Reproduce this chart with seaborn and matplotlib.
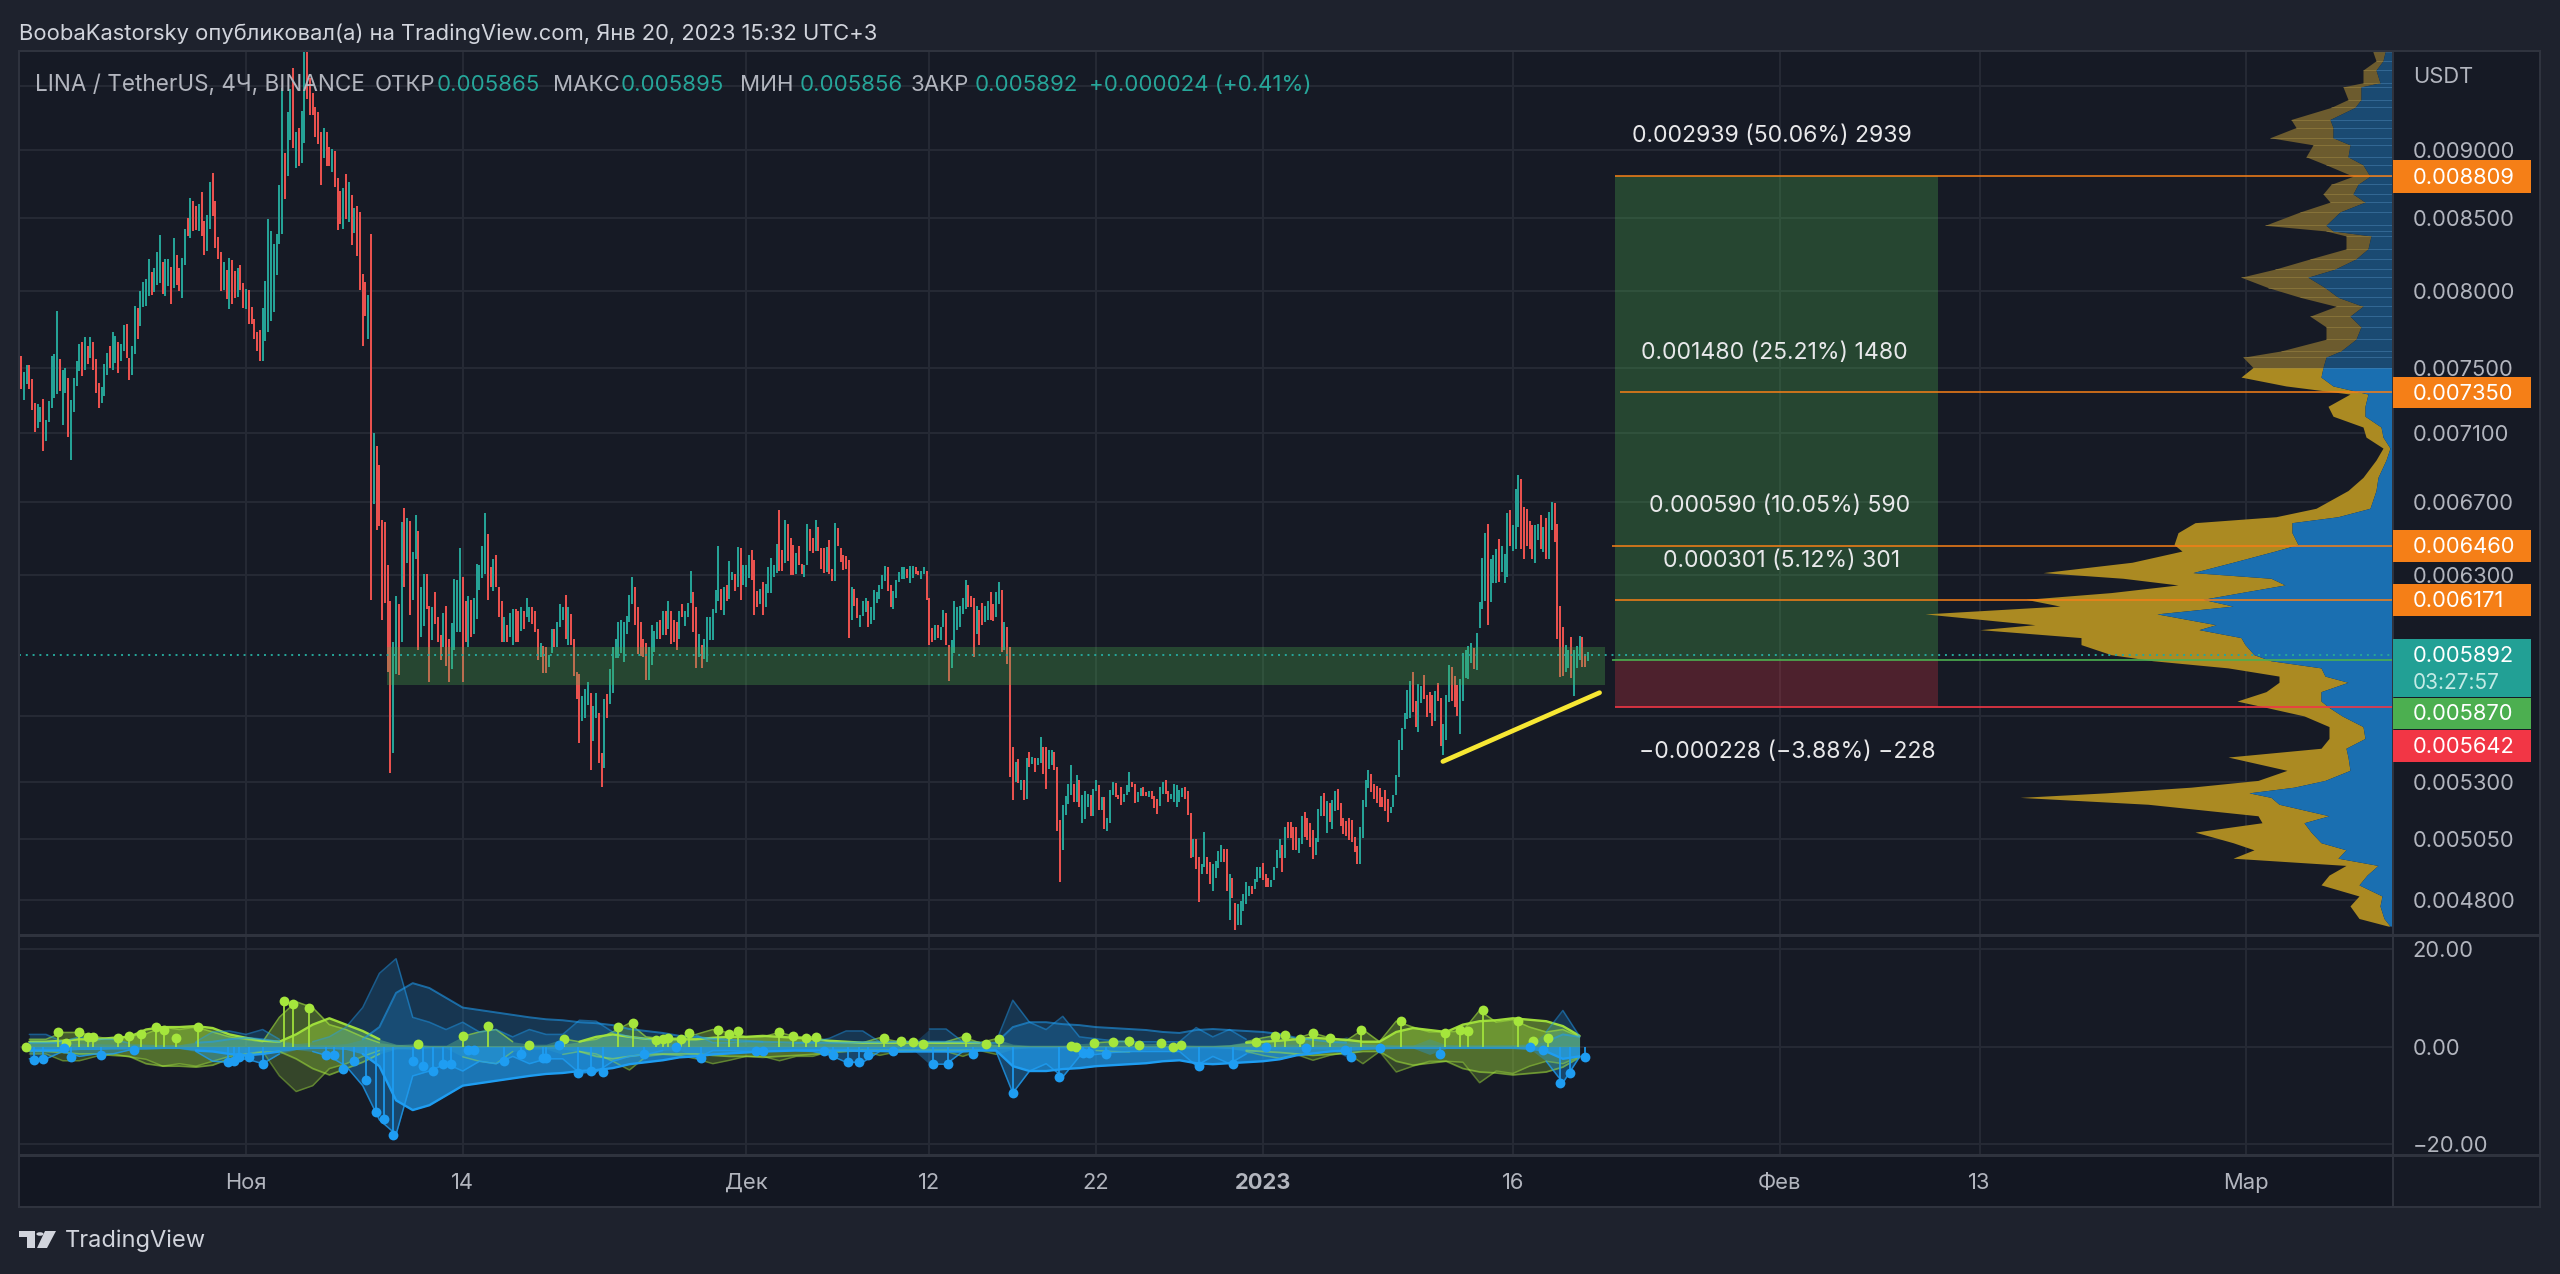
import matplotlib
matplotlib.use('Agg')
import matplotlib.pyplot as plt
from matplotlib.patches import Rectangle, Polygon, Circle
from matplotlib.ticker import NullLocator
import numpy as np
import pandas as pd
import seaborn as sns

# 4h candles, prices in millionths of USDT
candle_high = [
    7573, 7470, 7513, 7513, 7430, 7281, 7271, 7257, 7306, 7178,
    7292, 7573, 7584, 7865, 7556, 7483, 7498, 7433, 7298, 7433,
    7541, 7650, 7664, 7692, 7638, 7692, 7660, 7552, 7405, 7380,
    7520, 7590, 7638, 7725, 7700, 7660, 7650, 7772, 7778, 7563,
    7638, 7900, 7887, 7995, 8060, 8080, 8215, 8127, 8150, 8260,
    8381, 8192, 8215, 8215, 8157, 8358, 8242, 8150, 8220, 8427,
    8505, 8644, 8627, 8590, 8602, 8688, 8482, 8522, 8766, 8830,
    8627, 8370, 8260, 8192, 8140, 8220, 8210, 8134, 8150, 8173,
    8048, 8012, 8002, 7893, 7811, 7729, 7742, 7887, 8065, 8497,
    8410, 8320, 8388, 8742, 9480, 8975, 9294, 9470, 9640, 9134,
    9165, 9302, 9780, 9780, 9560, 9444, 9335, 9289, 9134, 9165,
    9134, 9026, 9005, 8993, 8790, 8700, 8717, 8822, 8766, 8664,
    8570, 8588, 8545, 8110, 8058, 7972, 8388, 7100, 7025, 6910,
    6600, 6586, 6355, 6167, 5960, 6190, 6150, 6590, 6665, 6610,
    6592, 6425, 6630, 6537, 6240, 6308, 6308, 6143, 6135, 6215,
    6085, 5995, 6105, 6143, 5975, 6053, 6280, 6275, 6445, 6290,
    6165, 6190, 6170, 6180, 6363, 6355, 6458, 6640, 6525, 6345,
    6385, 6410, 6240, 6165, 6085, 6045, 6105, 6125, 6125, 6115,
    6135, 6115, 6180, 6135, 6135, 6115, 6025, 5955, 5940, 5935,
    5895, 6025, 6025, 6060, 6150, 6135, 6195, 6135, 6098, 5975,
    5810, 5800, 5695, 5730, 5760, 5710, 5645, 5710, 5615, 5430,
    5680, 5705, 5825, 5935, 5975, 6060, 6068, 6060, 6090, 6195,
    6290, 6240, 6135, 6060, 5975, 5955, 5935, 6045, 6015, 6060,
    6070, 6115, 6115, 6165, 6115, 6070, 6060, 6115, 6150, 6115,
    6155, 6325, 6215, 6135, 6000, 5945, 5975, 6085, 6085, 6125,
    6225, 6458, 6230, 6240, 6250, 6375, 6320, 6310, 6450, 6445,
    6355, 6355, 6410, 6435, 6380, 6220, 6230, 6265, 6255, 6345,
    6395, 6355, 6470, 6655, 6435, 6600, 6577, 6500, 6465, 6420,
    6460, 6363, 6355, 6577, 6550, 6500, 6600, 6563, 6446, 6446,
    6450, 6490, 6335, 6584, 6553, 6446, 6410, 6403, 6380, 6240,
    6230, 6180, 6093, 6168, 6180, 6168, 6135, 6222, 6212, 6250,
    6300, 6352, 6346, 6250, 6217, 6278, 6317, 6346, 6346, 6334,
    6352, 6352, 6346, 6326, 6326, 6346, 6326, 6180, 6030, 6043,
    6046, 6033, 6122, 6105, 5945, 5970, 6168, 6135, 6140, 6180,
    6278, 6250, 6192, 6180, 6138, 6122, 6155, 6143, 6165, 6212,
    6150, 6212, 6263, 6222, 6057, 6033, 5932, 5458, 5389, 5400,
    5308, 5308, 5405, 5435, 5412, 5405, 5405, 5502, 5458, 5458,
    5443, 5443, 5435, 5366, 5130, 5196, 5235, 5290, 5374, 5290,
    5328, 5308, 5240, 5260, 5247, 5240, 5268, 5308, 5286, 5232,
    5230, 5140, 5264, 5297, 5293, 5240, 5275, 5247, 5283, 5343,
    5300, 5290, 5254, 5272, 5278, 5254, 5258, 5258, 5235, 5225,
    5278, 5300, 5305, 5260, 5247, 5290, 5283, 5264, 5272, 5278,
    5260, 5160, 5050, 5050, 4975, 4945, 5080, 4975, 4955, 4945,
    4960, 5000, 5025, 5010, 5010, 4905, 4890, 4785, 4782, 4795,
    4822, 4870, 4857, 4857, 4885, 4935, 4935, 4950, 4905, 4890,
    4880, 4935, 5005, 5050, 5025, 5100, 5125, 5125, 5100, 5103,
    5053, 5150, 5165, 5140, 5118, 5087, 5053, 5180, 5235, 5250, 5215,
    5206, 5218, 5260, 5265, 5206, 5140, 5128, 5140, 5130, 5058,
    5020, 5103, 5218, 5305, 5350, 5335, 5290, 5280, 5270, 5232, 5262,
    5225, 5190, 5240, 5328, 5490, 5545, 5615, 5725, 5767, 5810,
    5670, 5750, 5742, 5795, 5700, 5712, 5700, 5718, 5758, 5685,
    5562, 5697, 5843, 5832, 5790, 5746, 5775, 5905, 5920, 5937, 5953,
    5930, 6005, 6160, 6395, 6530, 6580, 6390, 6408, 6442, 6495,
    6460, 6415, 6640, 6655, 6570, 6775, 6855, 6830, 6670, 6660,
    6595, 6570, 6570, 6580, 6625, 6560, 6610, 6645, 6700, 6695,
    6580, 6143, 6035, 5944, 5920, 5985, 5920, 5936, 5990, 5982,
    5900, 5908,
]
candle_low = [
    7364, 7298, 7395, 7368, 7240, 7106, 7127, 7168, 6990, 7050,
    7168, 7250, 7312, 7333, 7353, 7147, 7340, 7075, 6940, 7224,
    7384, 7476, 7448, 7483, 7520, 7563, 7483, 7340, 7250, 7281,
    7320, 7450, 7498, 7483, 7526, 7466, 7541, 7606, 7563, 7420,
    7450, 7584, 7680, 7768, 7893, 7897, 7963, 7973, 7990, 8035,
    8053, 7980, 7963, 8030, 7908, 8018, 8040, 7996, 7952, 8173,
    8376, 8358, 8407, 8420, 8407, 8376, 8242, 8272, 8427, 8517,
    8290, 8215, 7995, 8007, 7945, 7877, 7908, 7952, 7959, 8007,
    7887, 7880, 7778, 7778, 7680, 7606, 7541, 7541, 7670, 7725,
    7800, 7855, 8104, 8320, 8388, 8635, 8810, 9077, 9018, 8864,
    8878, 8903, 9052, 9397, 9271, 9271, 9103, 9044, 8737, 8944,
    8878, 8883, 8840, 8725, 8420, 8460, 8424, 8493, 8474, 8313,
    8395, 8238, 8007, 7638, 7832, 7680, 6170, 6690, 6546, 6565,
    6068, 6155, 5810, 5338, 5430, 5800, 5795, 5960, 6240, 6365,
    6095, 6170, 6390, 5920, 5985, 6040, 6125, 5760, 5970, 6050,
    5960, 5870, 5935, 5840, 5760, 5825, 5920, 6008, 6008, 5760,
    5960, 5935, 5985, 6000, 6075, 6225, 6285, 6310, 6170, 6240,
    6220, 6240, 6085, 5960, 5957, 5960, 5985, 5943, 5960, 5960,
    6012, 6025, 6085, 6060, 6050, 6010, 5870, 5885, 5805, 5805,
    5835, 5905, 5935, 5935, 6035, 6068, 5975, 5943, 5943, 5790,
    5680, 5475, 5578, 5592, 5650, 5350, 5485, 5590, 5385, 5277,
    5362, 5592, 5655, 5710, 5880, 5880, 5905, 5860, 6000, 6060,
    6150, 6045, 5900, 5890, 5885, 5770, 5770, 5842, 5910, 5975,
    5975, 5995, 5995, 6025, 5950, 5960, 5920, 5975, 6085, 6040,
    6085, 6155, 6010, 5830, 5885, 5830, 5875, 5860, 5970, 5970,
    6105, 6165, 6120, 6095, 6165, 6175, 6275, 6220, 6240, 6170,
    6250, 6240, 6285, 6275, 6095, 6135, 6150, 6095, 6135, 6210,
    6210, 6290, 6315, 6325, 6325, 6365, 6375, 6300, 6300, 6310,
    6355, 6305, 6290, 6355, 6430, 6420, 6430, 6430, 6335, 6312,
    6317, 6305, 6272, 6272, 6455, 6370, 6330, 6335, 5977, 6070,
    6143, 6080, 6033, 6090, 6110, 6033, 6048, 6070, 6156, 6175,
    6228, 6272, 6217, 6135, 6127, 6180, 6267, 6283, 6283, 6288,
    6262, 6288, 6305, 6300, 6283, 6308, 6172, 5945, 5957, 5970,
    5977, 5970, 6035, 5945, 5765, 5830, 5905, 6018, 6035, 6100,
    6127, 6135, 6135, 5885, 6000, 5945, 6043, 6057, 6070, 6070,
    6065, 6085, 6150, 5908, 5920, 5850, 5320, 5218, 5297, 5293,
    5264, 5218, 5225, 5366, 5378, 5343, 5374, 5382, 5332, 5268,
    5358, 5374, 5351, 5085, 4870, 5005, 5153, 5203, 5240, 5210,
    5210, 5190, 5118, 5135, 5190, 5147, 5147, 5260, 5175, 5175,
    5092, 5085, 5120, 5240, 5232, 5222, 5196, 5210, 5240, 5254,
    5278, 5206, 5210, 5235, 5235, 5235, 5232, 5225, 5182, 5158,
    5192, 5247, 5247, 5210, 5222, 5210, 5190, 5210, 5232, 5225,
    5153, 4970, 4975, 4925, 4790, 4905, 4932, 4905, 4865, 4835,
    4890, 4930, 4955, 4955, 4835, 4720, 4808, 4678, 4700, 4700,
    4755, 4782, 4815, 4822, 4843, 4870, 4890, 4880, 4853, 4853,
    4850, 4880, 4928, 4970, 4912, 4970, 5057, 5053, 5005, 5005,
    4990, 5030, 5060, 5045, 5018, 4965, 4985, 5040, 5147, 5147, 5075,
    5125, 5095, 5172, 5175, 5105, 5070, 5065, 5046, 5040, 4995,
    4945, 4945, 5057, 5190, 5272, 5255, 5222, 5205, 5190, 5188, 5170,
    5122, 5160, 5190, 5240, 5320, 5443, 5540, 5585, 5590, 5620,
    5548, 5525, 5660, 5680, 5594, 5612, 5554, 5574, 5670, 5462,
    5420, 5490, 5665, 5670, 5640, 5600, 5517, 5670, 5783, 5778, 5856,
    5827, 5820, 6030, 6125, 6167, 6045, 6160, 6258, 6258, 6265,
    6318, 6258, 6292, 6455, 6430, 6440, 6560, 6440, 6390, 6455,
    6440, 6390, 6365, 6490, 6440, 6425, 6390, 6390, 6545, 6480,
    5975, 5787, 5792, 5812, 5830, 5779, 5694, 5830, 5870, 5835,
    5835, 5862,
]
candle_dir = (
    'RGGRRRGGRG' 'GGGGRGGRGG' 'GGRGRGRRRG' 'GGRGGRGGRR' 'GGRGGGGRGG'
    'GRGGRGRRGG' 'RGRRGRRGGR' 'RRRGRGRRGR' 'RGRRRRRGGG' 'GGGGGRGGRG'
    'RGGRRRRRRG' 'RRGRRRGRGR' 'GRRRRGRGRR' 'RRRRGGRGRG' 'RGGRGGRRGR'
    'RRGRRGGGGR' 'RGRGGGGGRR' 'GRRRGRGGRR' 'GRGGRRRGRR' 'GGRGGGRGRR'
    'RRGGGRGGRR' 'GRGGGGGGGG' 'GRRRRRGGGG' 'RGRGRRRGRG' 'GGRRGRGGGG'
    'GGRGRGGRGR' 'GGGRRRGRGG' 'GGGRRGRRRG' 'RRGGRRGRRR' 'GRRGRRRRRG'
    'RRGGGRGGGG' 'GGRRGGGGGR' 'GGRRGGRRRG' 'RGGRRGGGGG' 'GRRRGRRGGR'
    'RGGRGRRRGR' 'GRGRGRGGRR' 'GGRRRGGGGR' 'GRGGGRGGRG' 'RGGGRRRGGG'
    'RRGGRRGRRR' 'GGRRGGGGGR' 'RRGRRGGRRG' 'GGGRRGRRGG' 'GGGRGGGRRR'
    'GGGGRGRRRR' 'GGRRRRGGGRG' 'RGGRRRRRRR' 'RGGGGRRRRRR' 'RGGGGGGGGR'
    'RGGRRRRGRR' 'GGGRRRGGGGG' 'RGGGGRGGGR' 'GGGRGGGRRR' 'RRGGRGRGGR'
    'RRRGGRGGGR' 'RG'
)

# levels on the price scale
price_ticks = [9500, 9000, 8500, 8000, 7500, 7100, 6700, 6300, 5600, 5300, 5050, 4800]
price_tick_labels = ['', '0.009000', '0.008500', '0.008000', '0.007500', '0.007100',
                     '0.006700', '0.006300', '', '0.005300', '0.005050', '0.004800']
target_levels = [8809, 7350, 6460, 6171]
entry_level = 5870
stop_level = 5642
last_price = 5892
zone_top = 5931
zone_bottom = 5749
trend_days = [71.8, 81.2]
trend_prices = [5390, 5710]

# time axis, days from 1 Nov
time_ticks = [0, 13, 30, 41, 51, 61, 76, 92, 104, 120]
time_labels = ['Ноя', '14', 'Дек', '12', '22', '2023', '16', 'Фев', '13', 'Мар']

# volume profile: price, whole width, up part width
vp_price = [
    9770, 9700, 9625, 9523, 9490, 9390, 9328, 9234, 9172, 9094, 9040, 8950, 8890, 8805, 8745,
    8675, 8616, 8545, 8450, 8410, 8375, 8285, 8215, 8145, 8090, 8020, 7955, 7895, 7830, 7760,
    7680, 7605, 7565, 7500,
    7440, 7385, 7335, 7260, 7200, 7135, 7075, 7010, 6940, 6840, 6765, 6665, 6618, 6585, 6530,
    6465, 6430, 6370, 6315, 6285, 6250, 6210, 6175, 6140, 6100, 6045, 6020, 5980, 5945, 5895,
    5865, 5830, 5790, 5760, 5715, 5670, 5640, 5600, 5550, 5495, 5450, 5410, 5350, 5305, 5275,
    5250, 5230, 5200, 5150, 5120, 5080, 5035, 5005, 4970, 4940, 4900, 4860, 4815, 4775, 4725, 4695,
]
vp_total = [
    20, 17, 30, 30, 50, 45, 62, 102, 97, 123, 80, 87, 67, 40, 62,
    70, 63, 93, 128, 67, 47, 47, 83, 118, 152, 125, 93, 57, 83, 67,
    67, 112, 150, 140,
    152, 107, 43, 65, 60, 30, 27, 10, 17, 30, 45, 77, 117, 198, 215,
    219, 211, 261, 350, 270, 215, 282, 367, 333, 468, 358, 413, 312, 312, 282,
    240, 165, 114, 114, 127, 156, 127, 89, 64, 64, 72, 165, 106, 135, 202,
    287, 373, 245, 135, 131, 198, 160, 139, 160, 47, 64, 72, 34, 43, 34, 5,
]
vp_up = [
    8, 10, 17, 13, 32, 32, 38, 63, 60, 60, 43, 45, 30, 23, 35,
    40, 28, 53, 67, 60, 22, 25, 37, 58, 85, 68, 55, 30, 43, 32,
    37, 52, 67, 70,
    72, 60, 25, 28, 28, 12, 10, 3, 7, 15, 17, 23, 55, 101, 101,
    95, 118, 160, 200, 122, 108, 152, 190, 160, 236, 177, 194, 152, 148, 139,
    122, 72, 68, 45, 72, 72, 64, 51, 30, 28, 47, 45, 43, 68, 99,
    144, 122, 114, 64, 89, 82, 72, 47, 55, 15, 26, 34, 11, 13, 9, 3,
]
vp_split = 34  # rows above this one are the dim part

# lower pane, daily samples from day -13 to day 80
green_slow = [
    1.0, 1.0, 1.2, 1.5, 1.5, 1.8, 2.0, 3.5, 4.0, 4.0,
    4.2, 3.8, 2.5, 1.8, 1.2, 1.0, 2.5, 4.5, 5.8, 4.5,
    3.2, 1.5, 0.5, 0.3, 0.2, 0.2, 0.2, 0.2, 0.2, 0.2,
    0.2, 0.3, 0.5, 1.0, 2.0, 2.5, 2.0, 1.6, 1.5, 1.5,
    1.5, 1.8, 2.0, 2.0, 2.2, 2.0, 1.8, 1.6, 1.2, 1.0,
    0.8, 0.8, 0.8, 0.8, 0.8, 0.8, 0.8, 0.8, 0.4, 0.3,
    0.2, 0.2, 0.2, 0.2, 0.2, 0.2, 0.2, 0.2, 0.2, 0.2,
    0.2, 0.2, 0.4, 0.8, 1.0, 1.2, 1.5, 1.8, 1.6, 1.4,
    1.0, 1.0, 3.0, 3.8, 3.4, 3.0, 4.5, 5.2, 5.4, 5.8,
    5.5, 5.2, 4.2, 2.2,
]
blue_slow = [
    0.8, 0.8, 0.8, 0.6, 0.6, 0.5, 0.5, 0.5, 0.4, 0.4,
    0.8, 1.0, 1.5, 1.8, 1.5, 1.0, 0.6, 0.4, 0.4, 0.6,
    1.5, 4.0, 11.0, 13.0, 12.0, 10.0, 8.0, 7.5, 7.0, 6.5,
    6.0, 5.6, 5.4, 5.0, 4.8, 4.4, 3.6, 3.2, 2.8, 2.2,
    2.0, 1.6, 1.4, 1.2, 1.0, 0.9, 0.8, 0.8, 0.8, 0.8,
    0.9, 0.9, 1.0, 1.0, 1.0, 1.0, 1.0, 0.8, 0.8, 4.0,
    5.0, 5.0, 4.6, 4.4, 4.0, 3.8, 3.6, 3.4, 3.0, 2.8,
    3.4, 3.6, 3.4, 3.2, 3.0, 2.6, 1.8, 1.4, 1.0, 0.8,
    0.6, 0.5, 0.4, 0.4, 0.4, 0.4, 0.4, 0.4, 0.4, 0.4,
    0.6, 1.0, 2.5, 2.0,
]
green_raw = [
    1.5, 1.5, 2.9, 2.9, 2.0, 1.5, 2.1, 2.6, 4.0, 3.5,
    4.0, 3.0, 2.0, 1.5, 1.0, 6.0, 9.2, 8.0, 4.5, 3.5,
    2.0, 0.8, 0.4, 0.6, 0.3, 0.3, 2.1, 3.0, 3.5, 1.0,
    0.5, 0.5, 1.6, 1.0, 1.5, 3.0, 4.8, 2.0, 1.6, 1.8,
    2.5, 3.5, 2.8, 2.0, 2.0, 2.9, 2.0, 2.0, 1.0, 0.8,
    0.8, 1.8, 1.1, 1.0, 0.6, 1.0, 2.0, 0.8, 1.6, 0.5,
    0.3, 0.3, 0.3, 0.6, 0.8, 1.0, 1.1, 0.6, 0.7, 0.4,
    0.3, 0.3, 0.4, 1.0, 1.8, 2.4, 1.6, 2.8, 1.8, 1.2,
    3.5, 1.0, 5.2, 4.0, 3.0, 3.0, 3.2, 7.4, 5.0, 5.5,
    4.0, 3.0, 3.5, 2.0,
]
blue_raw = [
    2.5, 2.5, 1.0, 2.0, 1.5, 1.5, 0.7, 0.5, 0.4, 0.4,
    1.0, 3.0, 3.2, 2.5, 3.5, 1.5, 0.6, 1.0, 2.0, 4.0,
    8.0, 15.0, 18.0, 6.0, 5.0, 3.5, 5.0, 3.0, 3.5, 2.0,
    3.5, 2.5, 2.5, 5.4, 5.2, 3.0, 2.0, 1.6, 0.8, 0.6,
    2.4, 0.8, 0.8, 1.0, 1.0, 0.6, 0.8, 1.0, 1.7, 3.2,
    3.2, 1.0, 0.6, 0.6, 3.6, 3.6, 1.0, 0.6, 1.0, 9.5,
    5.0, 3.5, 6.2, 2.0, 1.6, 1.2, 1.0, 1.0, 1.0, 1.0,
    3.9, 2.0, 3.5, 1.5, 0.6, 0.5, 0.5, 0.4, 0.5, 2.1,
    0.5, 0.4, 0.3, 0.3, 1.6, 0.4, 0.3, 0.3, 0.3, 0.3,
    0.4, 3.0, 7.4, 2.1,
]
green_dot_day = [
    -13.2, -11.3, -10.8, -10, -9.5, -9.2, -7.7, -7, -6.3, -5.4, -4.9, -4.2, -2.9, 2.3, 2.8, 3.8,
    10.3, 13, 14.5, 17, 19.1, 22.3, 23.2, 24.6, 25, 25.3, 26.1, 26.6, 28.3, 29, 29.5, 32, 32.8,
    33.6, 34.2, 38.3, 39.3, 40, 40.6, 43.2, 44.4, 45.2, 49.5, 49.8, 50.9, 52, 53, 53.6, 54.9, 55.6,
    56.1, 60.6, 61.7, 62.3, 63.2, 64, 65, 66.9, 69.3, 71.9, 72.8, 73.3, 74.2, 76.3, 77.2, 78.1,
]
green_dot_val = [
    0, 2.9, 0.7, 2.9, 2, 2, 1.7, 2.1, 2.6, 4, 3.5, 1.8, 4, 9.4, 8.8, 8,
    0.6, 2.1, 4.3, 0.4, 1.6, 4, 4.8, 1.4, 1.5, 1.8, 1.5, 2.8, 3.5, 2.5, 3.1, 2.9, 2.1,
    1.8, 2, 1.8, 1.1, 1, 0.6, 2, 0.6, 1.6, 0.2, 0, 0.7, 1, 1.1, 0.4, 0.7, 0,
    0.4, 1, 2.1, 2.4, 1.6, 2.8, 1.8, 3.5, 5.2, 2.8, 3.3, 3.1, 7.4, 5.3, 1.1, 1.8,
]
blue_dot_day = [
    -12.7, -12.2, -10.9, -10.5, -8.7, -6.7, -1.1, -0.7, -0.4, 0.2, 1, 4.8, 5.3, 5.8, 6.5, 7.2,
    7.8, 8.3, 8.8, 10, 10.6, 11.2, 11.8, 12.3, 13.3, 13.7, 15.5, 16.5, 17.8, 18, 18.8, 19.9, 20.7,
    21.4, 23.9, 25.8, 27.3, 30.6, 31, 34.7, 35.2, 36.1, 36.8, 37.3, 38.8, 41.2, 42.1, 43.6, 46, 48.8,
    50.2, 50.6, 51.6, 57.2, 59.2, 61.2, 63.6, 65.9, 66.3, 68, 71.6, 77, 77.8, 78.8, 79.4, 80.3,
]
blue_dot_val = [
    -2.7, -2.5, -0.3, -2.1, -1.8, -0.7, -3.1, -2.9, -2.1, -2.1, -3.5, -1.7, -1.7, -4.5, -3, -6.9,
    -13.3, -14.8, -18.1, -3, -3.9, -4.9, -3.5, -3.5, -0.7, -0.7, -2.9, -1.6, -2.3, -2.3, 0.4, -5.4, -4.9,
    -5.1, -1.6, 0, -2.4, -1, -1, -1, -1.7, -3.2, -3.1, -1.8, -0.8, -3.6, -3.6, -1.5, -9.5, -6.2,
    -1.3, -1.3, -1.6, -3.9, -3.5, -0.1, -0.3, -0.7, -2.1, -0.3, -1.6, -0.1, -0.7, -7.4, -5.4, -2.1,
]

W, H = 2560, 1274
BG_OUT = '#1e222d'
BG = '#161a25'
BG_TIME = '#131722'
GRID = '#262a35'
FRAME = '#2f333e'
UP = '#26a69a'
DOWN = '#ef5350'
ORANGE = '#f57f17'
LIME = '#a5e63c'
SKY = '#1e9df2'
TXT = '#b2b5be'

sns.set_theme(style='dark')
plt.rcParams['font.family'] = ['Inter', 'DejaVu Sans']
plt.rcParams['axes.unicode_minus'] = True


def rect_px(x0, y0, x1, y1):
    return [x0 / W, 1 - y1 / H, (x1 - x0) / W, (y1 - y0) / H]


def put(x, y, s, color='white', size=15.5, ha='left', **kw):
    # va center sits a little high for this font
    fig.text(x / W, 1 - (y + 2) / H, s, color=color, fontsize=size, ha=ha, va='center', zorder=12, **kw)


def box(x0, y0, x1, y1, color, z=10):
    fig.patches.append(Rectangle((x0 / W, 1 - y1 / H), (x1 - x0) / W, (y1 - y0) / H,
                                 transform=fig.transFigure, facecolor=color, edgecolor='none',
                                 zorder=z, figure=fig))


fig = plt.figure(figsize=(W / 100, H / 100), dpi=100, facecolor=BG_OUT)
box(19, 51, 2540, 1207, BG, z=-3)
box(19, 1155, 2393, 1207, BG_TIME, z=-2)

XLIM = (-13.62, 128.8)

# price pane
ax = fig.add_axes(rect_px(19, 51, 2393, 935), facecolor=BG)
ax.set_yscale('log')
ax.set_xlim(XLIM)
ax.set_ylim(4660, 9780)
ax.set_yticks(price_ticks)
ax.set_yticklabels(price_tick_labels, va='center_baseline')
ax.yaxis.set_minor_locator(NullLocator())
ax.yaxis.tick_right()
ax.set_xticks(time_ticks)
ax.set_xticklabels([])
ax.grid(True, color=GRID, linewidth=1.4)
ax.tick_params(axis='y', length=0, pad=14, labelsize=15.8, labelcolor=TXT)
ax.tick_params(axis='x', length=0)
ax.set_axisbelow(True)
for s in ax.spines.values():
    s.set_visible(False)

n = min(len(candle_high), len(candle_low), len(candle_dir))
candles = pd.DataFrame({'day': -13.5 + np.arange(n) / 6, 'high': candle_high[:n], 'low': candle_low[:n],
                        'dir': list(candle_dir[:n])})
candles['color'] = candles['dir'].map({'G': UP, 'R': DOWN})
ax.vlines(candles['day'], candles['low'], candles['high'], colors=candles['color'], linewidth=1.4, zorder=3)

# support zone and position boxes
ax.fill_between([(387 - 246) / 16.67, (1605 - 246) / 16.67], zone_bottom, zone_top,
                color='#4caf50', alpha=0.3, linewidth=0, zorder=4)
box_left, box_right = (1615 - 246) / 16.67, (1938 - 246) / 16.67
ax.fill_between([box_left, box_right], entry_level, target_levels[0], color='#4caf50', alpha=0.3, linewidth=0, zorder=2)
ax.fill_between([box_left, box_right], stop_level, entry_level, color='#f23645', alpha=0.25, linewidth=0, zorder=2)

# volume profile sits over the main pane
ax_vp = fig.add_axes(ax.get_position(), sharey=ax, facecolor='none')
ax_vp.set_xlim(2374, 0)
ax_vp.axis('off')
p = np.array(vp_price)
tot = np.array(vp_total)
up = np.array(vp_up)
k = vp_split
ax_vp.fill_betweenx(p[:k], up[:k], tot[:k], color='#6c5b2e', linewidth=0)
ax_vp.fill_betweenx(p[:k], 0, up[:k], color='#1a4a72', linewidth=0)
ax_vp.hlines(p[:k], 0, up[:k], color='#4a85b5', linewidth=0.6, alpha=0.6)
ax_vp.hlines(p[:k], up[:k], tot[:k], color='#a08a45', linewidth=0.6, alpha=0.6)
ax_vp.fill_betweenx(p[k - 1:], up[k - 1:], tot[k - 1:], color='#ab8a22', linewidth=0)
ax_vp.fill_betweenx(p[k - 1:], 0, up[k - 1:], color='#1a6fb1', linewidth=0)

# levels, drawn above the profile
ax_top = fig.add_axes(ax.get_position(), sharex=ax, sharey=ax, facecolor='none')
ax_top.axis('off')
line_right = XLIM[1]
for lev, x_px in zip(target_levels, [1615, 1620, 1612, 1615]):
    ax_top.hlines(lev, (x_px - 246) / 16.67, line_right, color=ORANGE, alpha=0.8, linewidth=1.4)
ax_top.hlines(entry_level, (1612 - 246) / 16.67, line_right, color='#4caf50', alpha=0.85, linewidth=1.4)
ax_top.hlines(stop_level, box_left, line_right, color='#f23645', alpha=0.85, linewidth=1.4)
ax_top.hlines(last_price, XLIM[0], line_right, color=UP, linewidth=1.4, linestyles=(0, (1, 2.5)))
sns.lineplot(x=trend_days, y=trend_prices, ax=ax_top, color='#f7e733', linewidth=3.4, errorbar=None)
ax_top.set_xlim(XLIM)
ax_top.set_ylim(4660, 9780)

# lower pane
ax2 = fig.add_axes(rect_px(19, 935, 2393, 1155), facecolor=BG)
osc = pd.DataFrame({'day': np.arange(-13, 81), 'green_slow': green_slow, 'blue_slow': blue_slow,
                    'green_raw': green_raw, 'blue_raw': blue_raw})
ax2.fill_between(osc['day'], 0, -osc['green_raw'], color=LIME, alpha=0.22, linewidth=0)
ax2.fill_between(osc['day'], 0, -osc['green_slow'], color=LIME, alpha=0.25, linewidth=0)
ax2.fill_between(osc['day'], 0, osc['green_raw'], color=LIME, alpha=0.32, linewidth=0)
ax2.fill_between(osc['day'], 0, osc['green_slow'], color=LIME, alpha=0.42, linewidth=0)
ax2.fill_between(osc['day'], 0, osc['blue_raw'], color=SKY, alpha=0.22, linewidth=0)
ax2.fill_between(osc['day'], 0, osc['blue_slow'], color=SKY, alpha=0.22, linewidth=0)
ax2.fill_between(osc['day'], 0, -osc['blue_raw'], color=SKY, alpha=0.35, linewidth=0)
ax2.fill_between(osc['day'], 0, -osc['blue_slow'], color=SKY, alpha=0.7, linewidth=0)
# small values stay unlined, seaborn would bridge the gaps so use plain plot here
for col, c, sign, a, lw in [('green_raw', LIME, -1, 0.4, 1.1), ('green_slow', LIME, -1, 0.5, 1.3),
                            ('green_raw', LIME, 1, 0.65, 1.1), ('green_slow', LIME, 1, 0.95, 1.7),
                            ('blue_raw', SKY, 1, 0.5, 1.1), ('blue_slow', SKY, 1, 0.6, 1.4),
                            ('blue_raw', SKY, -1, 0.8, 1.1), ('blue_slow', SKY, -1, 1.0, 1.7)]:
    vals = osc[col].where(osc[col] >= 0.7)
    ax2.plot(osc['day'], sign * vals, color=c, alpha=a, linewidth=lw)
ax2.vlines(green_dot_day, 0, green_dot_val, color=LIME, linewidth=1.3, alpha=0.95)
ax2.vlines(blue_dot_day, 0, blue_dot_val, color=SKY, linewidth=1.3, alpha=0.95)
sns.scatterplot(x=green_dot_day, y=green_dot_val, ax=ax2, color=LIME, s=50, linewidth=0, zorder=6)
sns.scatterplot(x=blue_dot_day, y=blue_dot_val, ax=ax2, color=SKY, s=50, linewidth=0, zorder=7)
ax2.set_xlim(XLIM)
ax2.set_ylim(-22.2, 22.86)
ax2.set_xlabel('')
ax2.set_ylabel('')
ax2.yaxis.tick_right()
ax2.set_yticks([20, 0, -20])
ax2.set_yticklabels(['20.00', '0.00', '−20.00'], va='center_baseline')
ax2.set_xticks(time_ticks)
ax2.set_xticklabels(time_labels)
for lab, txt in zip(ax2.get_xticklabels(), time_labels):
    if txt == '2023':
        lab.set_fontweight('bold')
        lab.set_color('#d1d4dc')
ax2.grid(True, color=GRID, linewidth=1.4)
ax2.set_axisbelow(True)
ax2.tick_params(axis='y', length=0, pad=14, labelsize=15.8, labelcolor=TXT)
ax2.tick_params(axis='x', length=0, pad=13, labelsize=15.8, labelcolor=TXT)
for s in ax2.spines.values():
    s.set_visible(False)

# frame and pane separators
box(19, 50, 2541, 52, FRAME, z=9)
box(19, 1206, 2541, 1208, FRAME, z=9)
box(18, 50, 20, 1208, FRAME, z=9)
box(2539, 50, 2541, 1208, FRAME, z=9)
box(19, 934, 2540, 937, FRAME, z=9)
box(19, 1154, 2540, 1157, FRAME, z=9)
box(2392, 51, 2394, 1207, FRAME, z=9)

# price tags
for y0, y1, col, txt in [(160, 193, ORANGE, '0.008809'), (377, 408, ORANGE, '0.007350'),
                         (530, 562, ORANGE, '0.006460'), (584, 616, ORANGE, '0.006171'),
                         (698, 729, '#4caf50', '0.005870'), (730, 762, '#f23645', '0.005642')]:
    box(2393, y0, 2531, y1, col)
    put(2413, (y0 + y1) / 2 - 1, txt, size=15.8)
box(2393, 639, 2531, 697, '#22a095')
put(2413, 654, '0.005892', size=15.8)
put(2413, 681, '03:27:57', color='#c4ebe6', size=15)
put(2413, 75, 'USDT', color=TXT, size=15.8)

# header
put(19, 32, 'BoobaKastorsky опубликовал(а) на TradingView.com, Янв 20, 2023 15:32 UTC+3', color='#d1d4dc', size=15.8)
put(35, 83, 'LINA / TetherUS, 4Ч, BINANCE', color='#b2b5be', size=16.2)
for x, lab in [(375, 'ОТКР'), (553, 'МАКС'), (740, 'МИН'), (911, 'ЗАКР')]:
    put(x, 83, lab, color='#b2b5be', size=16)
for x, val in [(437, '0.005865'), (621, '0.005895'), (800, '0.005856'), (975, '0.005892'),
               (1089, '+0.000024 (+0.41%)')]:
    put(x, 83, val, color=UP, size=16)

# position labels
for x, y, s in [(1772, 134, '0.002939 (50.06%) 2939'), (1774, 351, '0.001480 (25.21%) 1480'),
                (1780, 504, '0.000590 (10.05%) 590'), (1782, 559, '0.000301 (5.12%) 301'),
                (1787, 750, '−0.000228 (−3.88%) −228')]:
    put(x, y, s, color='#e8e8ea', size=16.6, ha='center')

# footer logo
for pts in [[(19, 1231), (35, 1231), (35, 1248), (27, 1248), (27, 1237), (19, 1237)],
            [(45, 1231), (56, 1231), (47, 1248), (37, 1248)]]:
    fig.patches.append(Polygon([(a / W, 1 - b / H) for a, b in pts], closed=True, transform=fig.transFigure,
                               facecolor='#d1d4dc', edgecolor='none', zorder=11, figure=fig))
fig.patches.append(Circle((40 / W, 1 - 1234 / H), 3.6 / W, transform=fig.transFigure,
                          facecolor='#d1d4dc', edgecolor='none', zorder=11, figure=fig))
put(65, 1239, 'TradingView', color='#d1d4dc', size=17)

fig.savefig('out.png', dpi=100, facecolor=BG_OUT)
plt.close(fig)
